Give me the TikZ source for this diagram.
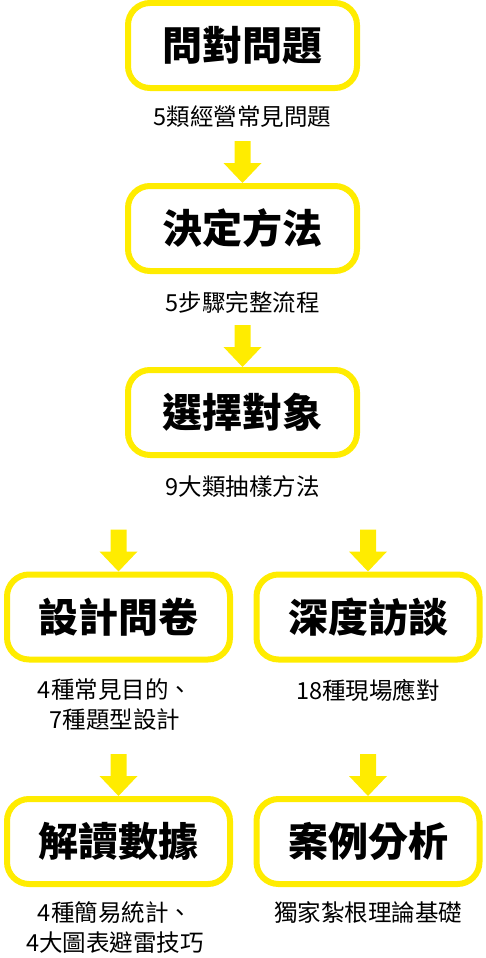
\documentclass[tikz,border=0pt]{standalone}
\usepackage{fontspec}
\setmainfont{Noto Sans CJK TC}
\newfontfamily\headfont{Noto Sans CJK TC Black}
\definecolor{ylw}{RGB}{255,236,0}
\tikzset{
  box/.style={draw=ylw, line width=6pt, rounded corners=22pt, fill=white,
    minimum height=85pt, inner sep=0pt,
    font=\fontsize{40pt}{44pt}\selectfont\headfont},
  topbox/.style={box, minimum width=229pt},
  lowbox/.style={box, minimum width=223pt},
  note/.style={align=center, inner sep=0pt, font=\fontsize{23.5pt}{30pt}\selectfont},
  darrow/.pic={\fill[ylw] (0,0) -- (-19,-20) -- (-8,-20) -- (-8,-42) -- (8,-42) -- (8,-20) -- (19,-20) -- cycle;}
}
\newcommand{\hd}[1]{\raisebox{-3pt}{#1}}
\begin{document}
\begin{tikzpicture}[x=1pt,y=-1pt]
\useasboundingbox (0,0) rectangle (486,958);
% top column
\node[topbox] (b1) at (242.5,45.5) {\hd{問對問題}};
\node[note] (l1) at (242.5,117) {5類經營常見問題};
\node[topbox] (b2) at (242.5,228.5) {\hd{決定方法}};
\node[note] (l2) at (242.5,302) {5步驟完整流程};
\node[topbox] (b3) at (242.5,412.5) {\hd{選擇對象}};
\node[note] (l3) at (242.5,487) {9大類抽樣方法};
% row 1
\node[lowbox] (b4) at (118.5,617) {\hd{設計問卷}};
\node[note] (l4) at (115,705) {4種常見目的、\\7種題型設計};
\node[lowbox] (b5) at (368,617) {\hd{深度訪談}};
\node[note] (l5) at (368,690) {18種現場應對};
% row 2
\node[lowbox] (b6) at (118.5,841.5) {\hd{解讀數據}};
\node[note] (l6) at (115,927.5) {4種簡易統計、\\4大圖表避雷技巧};
\node[lowbox] (b7) at (368,841.5) {\hd{案例分析}};
\node[note] (l7) at (368,913) {獨家紮根理論基礎};
% arrows
\pic at (b2.north) {darrow};
\pic at (b3.north) {darrow};
\pic at (b4.north) {darrow};
\pic at (b5.north) {darrow};
\pic at (b6.north) {darrow};
\pic at (b7.north) {darrow};
\end{tikzpicture}
\end{document}
